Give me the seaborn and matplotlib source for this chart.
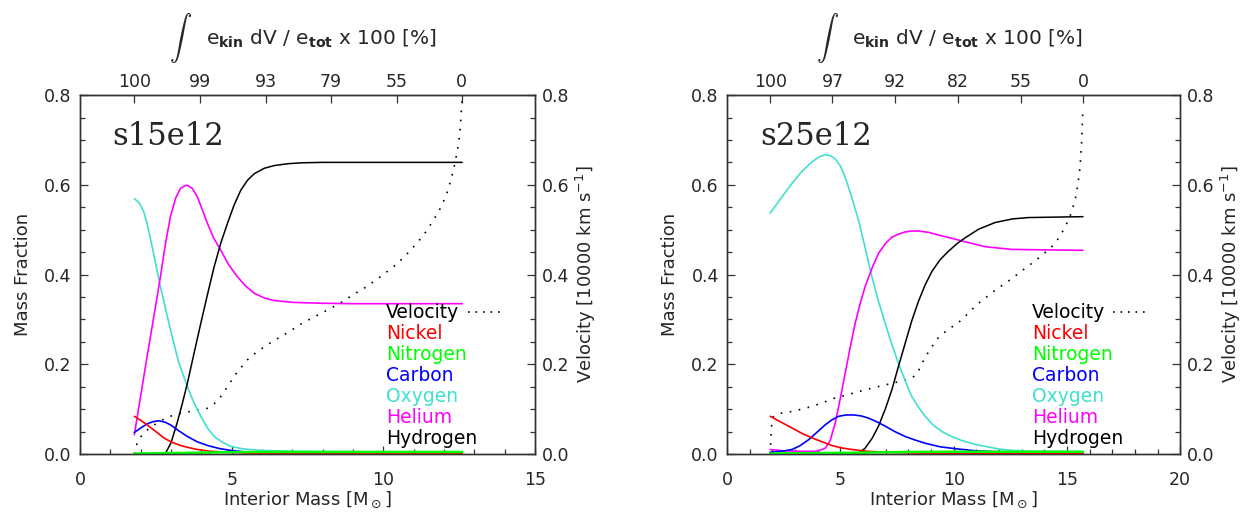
import matplotlib
matplotlib.use("Agg")
import matplotlib.pyplot as plt
from matplotlib.ticker import MultipleLocator
import seaborn as sns

# ---------------- s15e12 (left panel) ----------------
s15_O_m = [1.79, 1.95, 2.1, 2.21, 2.4, 2.65, 2.98, 3.25, 3.54, 3.75, 3.98, 4.2, 4.42, 4.7, 4.97, 5.4, 5.97, 7.0, 9.0, 12.6]
s15_O = [0.569, 0.560, 0.540, 0.514, 0.455, 0.373, 0.277, 0.205, 0.150, 0.115, 0.084, 0.058, 0.039, 0.026, 0.017, 0.011, 0.008, 0.006, 0.005, 0.005]

s15_He_m = [1.79, 2.0, 2.21, 2.43, 2.65, 2.82, 2.98, 3.15, 3.31, 3.45, 3.54, 3.7, 3.87, 4.0, 4.2, 4.4, 4.64, 4.9, 5.19, 5.45, 5.75, 6.1, 6.41, 7.0, 7.96, 9.0, 12.6]
s15_He = [0.043, 0.13, 0.217, 0.305, 0.395, 0.47, 0.529, 0.570, 0.592, 0.598, 0.599, 0.592, 0.573, 0.550, 0.514, 0.482, 0.454, 0.422, 0.395, 0.375, 0.358, 0.347, 0.342, 0.338, 0.336, 0.335, 0.335]

s15_H_m = [1.79, 2.5, 2.82, 3.0, 3.2, 3.37, 3.54, 3.76, 3.98, 4.2, 4.42, 4.64, 4.86, 5.08, 5.30, 5.52, 5.75, 6.08, 6.41, 6.85, 7.29, 8.0, 12.6]
s15_H = [0.0, 0.0, 0.002, 0.025, 0.069, 0.112, 0.158, 0.225, 0.291, 0.355, 0.417, 0.47, 0.514, 0.555, 0.588, 0.610, 0.625, 0.637, 0.643, 0.647, 0.649, 0.65, 0.65]

s15_C_m = [1.79, 2.0, 2.21, 2.4, 2.6, 2.8, 2.98, 3.25, 3.54, 3.87, 4.2, 4.6, 4.97, 5.5, 6.5, 8.0, 12.6]
s15_C = [0.048, 0.058, 0.067, 0.072, 0.074, 0.071, 0.065, 0.052, 0.039, 0.027, 0.019, 0.012, 0.008, 0.004, 0.003, 0.002, 0.002]

s15_Ni_m = [1.79, 2.0, 2.21, 2.5, 2.76, 3.0, 3.31, 3.6, 3.87, 4.3, 4.8, 5.5, 7.0, 12.6]
s15_Ni = [0.084, 0.075, 0.065, 0.050, 0.036, 0.027, 0.019, 0.014, 0.010, 0.006, 0.004, 0.002, 0.001, 0.001]

s15_N_m = [1.79, 3.0, 4.0, 5.0, 6.0, 12.6]
s15_N = [0.001, 0.002, 0.003, 0.004, 0.0045, 0.0045]

s15_V_m = [1.79, 1.88, 2.0, 2.1, 2.3, 2.54, 2.8, 3.09, 3.4, 3.65, 3.9, 4.2, 4.42, 4.64, 4.86, 5.08, 5.3, 5.52, 5.8,
           6.08, 6.35, 6.63, 6.95, 7.29, 7.62, 7.96, 8.27, 8.57, 9.0, 9.45, 9.9, 10.33, 10.7, 11.1, 11.4, 11.65,
           11.9, 12.09, 12.2, 12.31, 12.4, 12.48, 12.53, 12.56, 12.6]
s15_V = [0.0, 0.024, 0.038, 0.047, 0.058, 0.069, 0.079, 0.087, 0.092, 0.095, 0.098, 0.102, 0.112, 0.128, 0.150, 0.173,
         0.192, 0.210, 0.226, 0.239, 0.251, 0.262, 0.275, 0.290, 0.302, 0.314, 0.325, 0.336, 0.355, 0.373, 0.395,
         0.417, 0.440, 0.469, 0.495, 0.521, 0.550, 0.580, 0.605, 0.632, 0.662, 0.692, 0.720, 0.751, 0.795]

s15_ekin_m = [1.79, 3.96, 6.13, 8.27, 10.44, 12.58]
s15_ekin_lab = ["100", "99", "93", "79", "55", "0"]

# ---------------- s25e12 (right panel) ----------------
s25_O_m = [1.90, 2.3, 2.86, 3.3, 3.74, 4.05, 4.33, 4.55, 4.77, 5.0, 5.21, 5.5, 5.8, 6.1, 6.39, 6.68, 6.98, 7.27, 7.56,
           7.86, 8.15, 8.45, 8.74, 9.1, 9.48, 9.9, 10.36, 10.9, 11.39, 12.0, 12.57, 13.5, 15.71]
s25_O = [0.537, 0.565, 0.603, 0.630, 0.651, 0.662, 0.667, 0.665, 0.658, 0.642, 0.617, 0.572, 0.521, 0.458, 0.395, 0.340,
         0.291, 0.244, 0.202, 0.163, 0.128, 0.104, 0.084, 0.064, 0.050, 0.039, 0.030, 0.022, 0.017, 0.011, 0.008, 0.006, 0.005]

s25_He_m = [1.90, 2.5, 3.3, 3.89, 4.1, 4.33, 4.55, 4.77, 5.0, 5.21, 5.43, 5.65, 5.87, 6.09, 6.4, 6.68, 7.0, 7.27, 7.56,
            7.86, 8.15, 8.45, 8.9, 9.33, 9.9, 10.51, 11.39, 12.57, 14.0, 15.71]
s25_He = [0.010, 0.007, 0.006, 0.006, 0.008, 0.013, 0.030, 0.069, 0.125, 0.180, 0.237, 0.291, 0.335, 0.373, 0.415, 0.447,
          0.470, 0.483, 0.490, 0.495, 0.497, 0.497, 0.494, 0.488, 0.481, 0.473, 0.462, 0.456, 0.455, 0.454]

s25_H_m = [1.90, 5.0, 5.65, 5.87, 6.09, 6.4, 6.68, 6.98, 7.27, 7.56, 7.86, 8.15, 8.45, 8.74, 9.04, 9.4, 9.77, 10.15,
           10.51, 11.1, 11.83, 12.6, 13.3, 15.71]
s25_H = [0.0, 0.0, 0.001, 0.004, 0.013, 0.035, 0.062, 0.100, 0.143, 0.195, 0.247, 0.297, 0.341, 0.377, 0.407, 0.433,
         0.452, 0.469, 0.482, 0.501, 0.516, 0.524, 0.527, 0.529]

s25_C_m = [1.90, 2.4, 2.86, 3.2, 3.6, 4.0, 4.33, 4.62, 4.92, 5.25, 5.58, 5.9, 6.24, 6.6, 6.98, 7.4, 7.86, 8.3, 8.74,
           9.4, 10.21, 11.0, 12.0, 13.5, 15.71]
s25_C = [0.004, 0.006, 0.010, 0.018, 0.032, 0.050, 0.065, 0.076, 0.084, 0.087, 0.087, 0.085, 0.080, 0.072, 0.062, 0.050,
         0.039, 0.031, 0.024, 0.016, 0.011, 0.007, 0.005, 0.003, 0.002]

s25_Ni_m = [1.90, 2.3, 2.86, 3.3, 3.74, 4.2, 4.62, 5.0, 5.5, 6.2, 7.0, 8.5, 15.71]
s25_Ni = [0.084, 0.073, 0.058, 0.046, 0.036, 0.027, 0.019, 0.014, 0.010, 0.006, 0.004, 0.002, 0.001]

s25_N_m = [1.90, 4.0, 6.0, 8.0, 10.0, 15.71]
s25_N = [0.001, 0.002, 0.003, 0.0045, 0.005, 0.005]

s25_V_m = [1.90, 1.93, 1.97, 2.02, 2.12, 2.4, 2.86, 3.3, 3.74, 4.2, 4.77, 5.3, 5.8, 6.4, 6.98, 7.56, 8.15, 8.4, 8.6,
           8.82, 9.04, 9.3, 9.62, 10.0, 10.36, 10.7, 11.1, 11.5, 11.83, 12.2, 12.57, 13.0, 13.45, 13.9, 14.33, 14.65,
           14.92, 15.15, 15.36, 15.48, 15.58, 15.65, 15.7]
s25_V = [0.0, 0.035, 0.069, 0.082, 0.087, 0.091, 0.095, 0.100, 0.106, 0.114, 0.125, 0.132, 0.139, 0.147, 0.154, 0.161,
         0.169, 0.180, 0.202, 0.222, 0.239, 0.258, 0.272, 0.286, 0.299, 0.317, 0.336, 0.352, 0.365, 0.378, 0.391,
         0.408, 0.425, 0.443, 0.462, 0.482, 0.506, 0.532, 0.566, 0.600, 0.640, 0.699, 0.766]

s25_ekin_m = [1.90, 4.65, 7.42, 10.17, 12.95, 15.71]
s25_ekin_lab = ["100", "97", "92", "82", "55", "0"]

species = ["Velocity", "Nickel", "Nitrogen", "Carbon", "Oxygen", "Helium", "Hydrogen"]
colors = {"Velocity": "black", "Nickel": "#ff0000", "Nitrogen": "#00ff00", "Carbon": "#0000ff",
          "Oxygen": "#40e0d0", "Helium": "#ff00ff", "Hydrogen": "black"}
widths = {"Nickel": 1.2, "Nitrogen": 1.8, "Carbon": 1.2, "Oxygen": 1.2, "Helium": 1.2, "Hydrogen": 1.1}

sns.set_style("ticks")
plt.rcParams["font.family"] = ["DejaVu Sans"]
plt.rcParams["mathtext.fontset"] = "dejavusans"

fig = plt.figure(figsize=(12.43, 5.12), dpi=100)

panels = [
    dict(name="s15e12", xmax=15, pos=[0.0644, 0.1133, 0.366, 0.701], leg_x=0.672,
         curves=[("Oxygen", s15_O_m, s15_O), ("Helium", s15_He_m, s15_He), ("Hydrogen", s15_H_m, s15_H),
                 ("Carbon", s15_C_m, s15_C), ("Nickel", s15_Ni_m, s15_Ni), ("Nitrogen", s15_N_m, s15_N)],
         vel=(s15_V_m, s15_V), ekin=(s15_ekin_m, s15_ekin_lab), title_x=0.07),
    dict(name="s25e12", xmax=20, pos=[0.585, 0.1133, 0.3645, 0.701], leg_x=0.673,
         curves=[("Oxygen", s25_O_m, s25_O), ("Helium", s25_He_m, s25_He), ("Hydrogen", s25_H_m, s25_H),
                 ("Carbon", s25_C_m, s25_C), ("Nickel", s25_Ni_m, s25_Ni), ("Nitrogen", s25_N_m, s25_N)],
         vel=(s25_V_m, s25_V), ekin=(s25_ekin_m, s25_ekin_lab), title_x=0.073),
]

spine_col = "#333333"
for p in panels:
    ax = fig.add_axes(p["pos"])
    for name, m, v in p["curves"]:
        sns.lineplot(x=m, y=v, ax=ax, color=colors[name], lw=widths[name], estimator=None, sort=False)
    ax.set_xlim(0, p["xmax"])
    ax.set_ylim(0, 0.8)
    ax.xaxis.set_major_locator(MultipleLocator(5))
    ax.xaxis.set_minor_locator(MultipleLocator(1))
    ax.yaxis.set_major_locator(MultipleLocator(0.2))
    ax.yaxis.set_minor_locator(MultipleLocator(0.05))
    ax.yaxis.set_major_formatter(plt.FuncFormatter(lambda v, _: f"{v:.1f}"))
    ax.tick_params(which="both", direction="in", top=False, right=False, color=spine_col, labelsize=12.5)
    ax.tick_params(which="major", length=6, width=0.9)
    ax.tick_params(which="minor", length=3.5, width=0.9)
    ax.tick_params(axis="x", pad=12)
    ax.tick_params(axis="y", pad=6)
    for s in ax.spines.values():
        s.set_color(spine_col)
        s.set_linewidth(1.0)
    ax.set_xlabel(r"Interior Mass [M$_\odot$]", fontsize=13, labelpad=1)
    ax.set_ylabel("Mass Fraction", fontsize=13, labelpad=9)

    ax2 = ax.twinx()
    vm, vv = p["vel"]
    sns.lineplot(x=vm, y=vv, ax=ax2, color="black", lw=1.2, linestyle=(0, (1, 4.5)), estimator=None, sort=False)
    ax2.set_ylim(0, 0.8)
    ax2.yaxis.set_major_locator(MultipleLocator(0.2))
    ax2.yaxis.set_minor_locator(MultipleLocator(0.05))
    ax2.yaxis.set_major_formatter(plt.FuncFormatter(lambda v, _: f"{v:.1f}"))
    ax2.tick_params(which="both", direction="in", color=spine_col, labelsize=12.5, pad=5)
    ax2.tick_params(which="major", length=6, width=0.9)
    ax2.tick_params(which="minor", length=3.5, width=0.9)
    ax2.set_ylabel(r"Velocity [10000 km s$^{-1}$]", fontsize=13, labelpad=3)
    for s in ax2.spines.values():
        s.set_color(spine_col)
        s.set_linewidth(1.0)

    top = ax.secondary_xaxis("top")
    em, el = p["ekin"]
    top.set_xticks(em, el)
    top.xaxis.set_minor_locator(plt.NullLocator())
    top.tick_params(which="major", direction="in", length=6, width=0.9, color=spine_col, labelsize=12.5, pad=3)
    top.spines["top"].set_color(spine_col)

    # top axis title: big integral sign + expression
    ax.text(0.221, 1.16, r"$\int$", transform=ax.transAxes, fontsize=16, ha="center", va="center",
            math_fontfamily="cm")
    ax.text(0.530, 1.158, r"e$_{\mathbf{kin}}$ dV / e$_{\mathbf{tot}}$ x 100 [%]", transform=ax.transAxes,
            fontsize=14.5, ha="center", va="center")

    ax.text(p["title_x"], 0.885, p["name"], transform=ax.transAxes, fontsize=22,
            family="DejaVu Serif", va="center", ha="left")

    # legend (text labels)
    y0, dy = 0.395, 0.0585
    for i, name in enumerate(species):
        ax.text(p["leg_x"], y0 - i * dy, name, transform=ax.transAxes, color=colors[name],
                fontsize=13.5, va="center", ha="left")
    ax.plot([0.852, 0.925], [y0, y0], transform=ax.transAxes, color="black", lw=1.2,
            linestyle=(0, (1, 3.5)), clip_on=False)
    ax.set_zorder(ax2.get_zorder() + 1)
    ax.patch.set_visible(False)

fig.savefig("out.png", dpi=100)
